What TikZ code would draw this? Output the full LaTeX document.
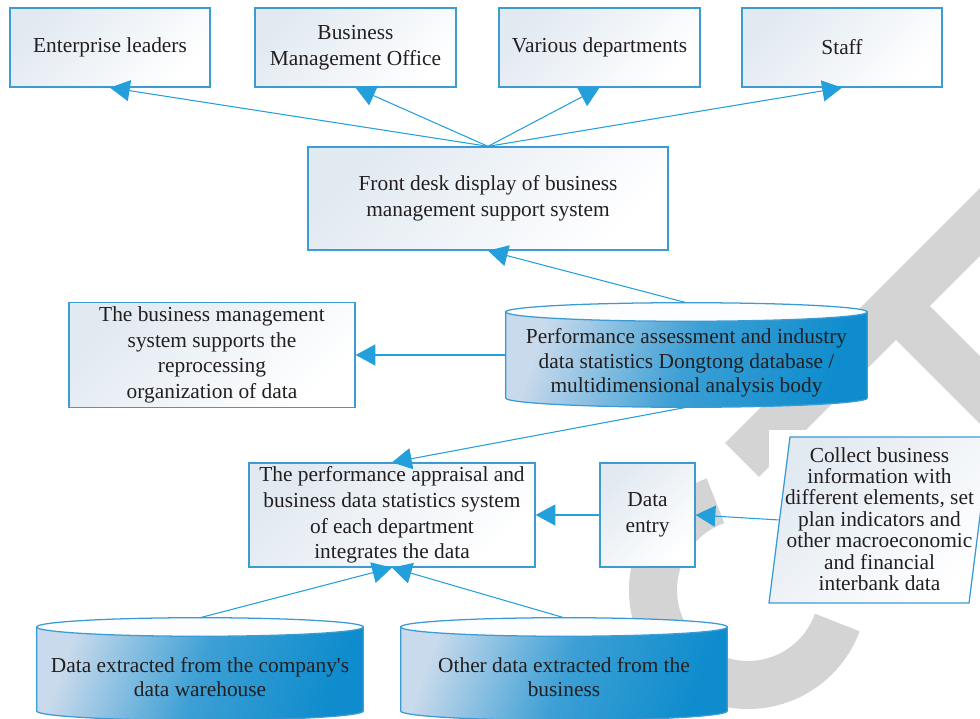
\documentclass[tikz,border=0pt]{standalone}
\usepackage{fontspec}
\setmainfont{Liberation Serif}
\usepackage{tikz}
\usepackage{xcolor}
\usetikzlibrary{shapes.geometric, arrows.meta, positioning, calc}
\definecolor{boxline}{HTML}{3D9BD3}
\definecolor{arrowblue}{HTML}{239FDB}
\definecolor{boxtint}{HTML}{E1E9F1}
\definecolor{drumlight}{HTML}{C9DAEC}
\definecolor{drumdeep}{HTML}{0E8CCD}
\definecolor{inkgray}{HTML}{231F20}
\definecolor{markgray}{HTML}{D4D4D4}
\tikzstyle{paneltone} = [draw=boxline, line width=0.9pt, top color=boxtint, bottom color=white, shading angle=45]
\tikzstyle{panel} = [paneltone, text=inkgray, align=center, inner sep=2pt]
\tikzstyle{receiver} = [panel, minimum width=5cm, minimum height=1.975cm]
\tikzstyle{drumshape} = [inner sep=0pt]
\tikzstyle{drumbody} = [draw=boxline, line width=0.9pt, top color=drumlight, bottom color=drumdeep, middle color=drumdeep!75!drumlight, shading angle=70]
\tikzstyle{drumtop} = [draw=boxline, line width=0.9pt, fill=white!94!drumlight]
\tikzstyle{drumtext} = [text=inkgray, align=center, font=\fontsize{15.2}{17.6}\selectfont]
\tikzstyle{arrow} = [arrowblue, line width=0.75pt, -{Triangle[length=14pt, width=15pt]}]
\tikzstyle{watermark} = [markgray, line width=1.2cm]
% database drum drawn round an empty node
\newcommand{\drum}[1]{%
  \shadedraw[drumbody] let \p1=(#1.north west), \p2=(#1.south east), \n1={(\x2-\x1)/2} in
    (\x1,{\y1-6.6pt}) -- (\x1,{\y2+6.6pt}) arc[start angle=180, end angle=360, x radius=\n1, y radius=6.6pt] -- (\x2,{\y1-6.6pt}) -- cycle;
  \filldraw[drumtop] let \p1=(#1.north west), \p2=(#1.north east), \n1={(\x2-\x1)/2} in
    ($(#1.north)+(0,-6.6pt)$) ellipse [x radius=\n1, y radius=6.6pt];
}

\begin{document}
\begin{tikzpicture}[x=0.025cm, y=0.025cm, font=\fontsize{15.2}{18.2}\selectfont]
    \useasboundingbox (0,0) rectangle (980,718);

    % Watermark behind the chart
    \draw[watermark] (748,128) ++(110:95) arc[start angle=110, end angle=340, radius=95];
    \draw[watermark] (742,258) -- (1000,516);
    \draw[watermark] (895,413) -- (1010,298);
    \fill[white] (769,115) rectangle (990,288);

    % Receivers along the top
    \node[receiver] (lead) at (110,670.5) {Enterprise leaders};
    \node[receiver, minimum width=5.025cm] (office) at (355.5,670.5) {Business\\Management Office};
    \node[receiver, minimum width=5.025cm] (depts) at (599.5,670.5) {Various departments};
    \node[receiver] (staff) at (842,670.5) {Staff};

    % Front desk display
    \node[panel, minimum width=9cm, minimum height=2.575cm] (front) at (488,519.5) {Front desk display of business\\management support system};

    % Middle row
    \node[panel, minimum width=7.15cm, minimum height=2.625cm] (reproc) at (212,363) {The business management\\system supports the\\reprocessing\\organization of data};
    \node[drumshape, minimum width=9.025cm, minimum height=2.6cm] (maindb) at (686.5,363) {};
    \drum{maindb}
    \node[drumtext] (maindbtext) at (686.5,355) {Performance assessment and industry\\data statistics Dongtong database /\\multidimensional analysis body};

    % Department systems and data entry
    \node[panel, minimum width=7.15cm, minimum height=2.6cm] (perf) at (392,203) {The performance appraisal and\\business data statistics system\\of each department\\integrates the data};
    \node[panel, minimum width=2.375cm, minimum height=2.6cm] (entry) at (647.5,203) {Data\\entry};
    \shadedraw[paneltone] (769,115) -- (969,115) -- (990,281) -- (790,281) -- cycle;
    \node[text=inkgray, align=center, font=\fontsize{15.2}{15.2}\selectfont] (collect) at (879.5,199) {Collect business\\information with\\different elements, set\\plan indicators and\\other macroeconomic\\and financial\\interbank data};
    \coordinate (collectedge) at (779.5,198);

    % Source databases
    \node[drumshape, minimum width=8.15cm, minimum height=2.55cm] (whdb) at (200,49) {};
    \drum{whdb}
    \node[drumtext] (whdbtext) at (200,41) {Data extracted from the company\textquotesingle s\\data warehouse};
    \node[drumshape, minimum width=8.15cm, minimum height=2.55cm] (otherdb) at (564,49) {};
    \drum{otherdb}
    \node[drumtext] (otherdbtext) at (564,41) {Other data extracted from the\\business};

    % Connectors
    \draw[arrow] (front.north) -- (lead.south);
    \draw[arrow] (front.north) -- (office.south);
    \draw[arrow] (front.north) -- (depts.south);
    \draw[arrow] (front.north) -- (staff.south);
    \draw[arrow] (maindb.north) -- (front.south);
    \draw[arrow] (maindb.west) -- (reproc.east);
    \draw[arrow] (maindb.south) -- (perf.north);
    \draw[arrow] (entry.west) -- (perf.east);
    \draw[arrow] (collectedge) -- (entry.east);
    \draw[arrow] (whdb.north) -- (perf.south);
    \draw[arrow] (otherdb.north) -- (perf.south);
\end{tikzpicture}
\end{document}
